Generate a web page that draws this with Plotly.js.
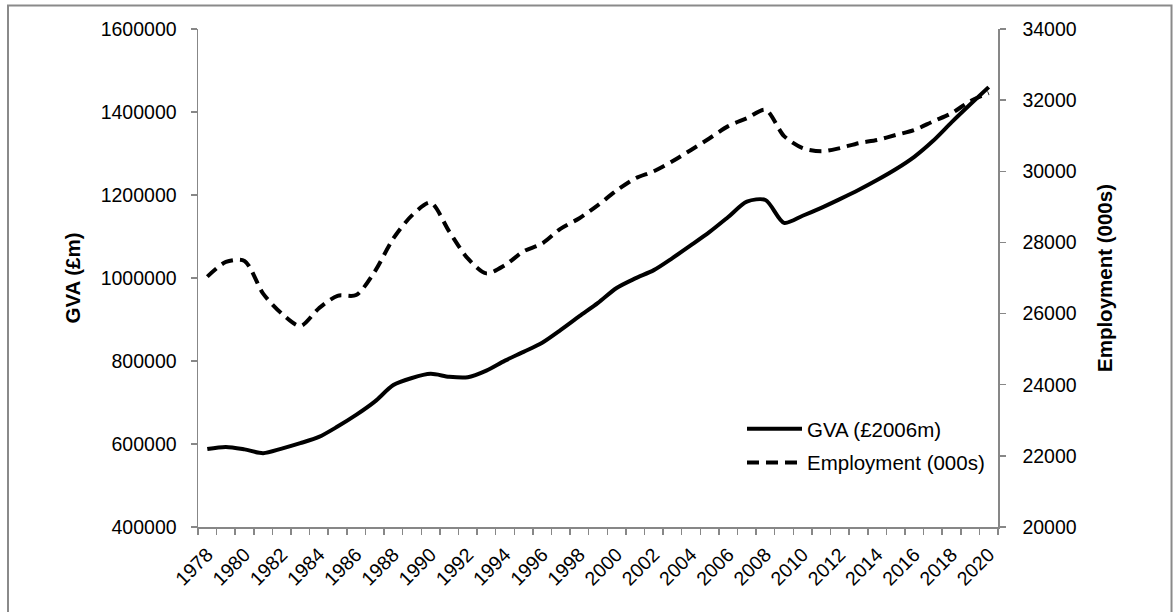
<!DOCTYPE html>
<html>
<head>
<meta charset="utf-8">
<script src="https://cdn.plot.ly/plotly-3.0.1.min.js"></script>
<style>html,body{margin:0;padding:0;background:#fff;}#chart{width:1174px;height:612px;}</style>
</head>
<body>
<div id="chart"></div>
<script>
const years = [1978,1979,1980,1981,1982,1983,1984,1985,1986,1987,1988,1989,1990,1991,1992,1993,1994,1995,1996,1997,1998,1999,2000,2001,2002,2003,2004,2005,2006,2007,2008,2009,2010,2011,2012,2013,2014,2015,2016,2017,2018,2019,2020];
const gva = [588000,593000,587000,578000,589000,602000,617000,642000,670000,702000,742000,759000,769000,762000,761000,777000,801000,822000,844000,875000,908000,940000,976000,999000,1019000,1048000,1079000,1111000,1147000,1184000,1188000,1133000,1150000,1169000,1190000,1212000,1236000,1262000,1292000,1330000,1375000,1418000,1460000];
const employment = [27040,27450,27480,26560,26000,25650,26150,26500,26520,27180,28110,28760,29120,28310,27550,27130,27360,27750,27970,28390,28680,29050,29460,29800,30000,30280,30600,30930,31270,31490,31730,30990,30650,30560,30650,30790,30880,31020,31160,31400,31630,31970,32200];
const tickYears = years.filter(y => y % 2 === 0);
const tickText = tickYears.map(String);
const boundaries = years.map(y => y - 0.5).concat([years[years.length-1] + 0.5]);

const FONT = 'Liberation Sans, Arial, sans-serif';
const AXC = '#878787';

const traces = [
  {x: years, y: gva, name: 'GVA (£2006m)', type: 'scatter', mode: 'lines', legendgroup: 'g1',
   line: {color: '#000', width: 4, shape: 'spline', smoothing: 0.8}, yaxis: 'y'},
  {x: years, y: employment, name: 'Employment (000s)', type: 'scatter', mode: 'lines', legendgroup: 'g2',
   line: {color: '#000', width: 4, shape: 'spline', smoothing: 0.8, dash: '12px,7px'}, yaxis: 'y2'}
];

const layout = {
  width: 1174, height: 612,
  margin: {l: 198, r: 176, t: 29, b: 85},
  paper_bgcolor: '#fff', plot_bgcolor: '#fff',
  font: {family: FONT, color: '#000', size: 19.5},
  showlegend: true,
  legend: {x: 0.68, y: 0.237, xanchor: 'left', yanchor: 'top', bgcolor: 'rgba(0,0,0,0)',
           itemwidth: 55, traceorder: 'grouped', tracegroupgap: 4,
           font: {family: FONT, size: 20.5, color: '#000'}},
  xaxis: {
    range: [1977.5, 2020.5], tickmode: 'array', tickvals: tickYears, ticktext: tickText,
    tickangle: -45, ticks: '', showgrid: false, zeroline: false,
    showline: true, linecolor: AXC, linewidth: 1.5,
    tickfont: {family: FONT, size: 19.5, color: '#000'},
    ticklabelstandoff: 7,
    minor: {tickmode: 'array', tickvals: boundaries, ticks: 'outside', ticklen: 6, tickcolor: AXC, tickwidth: 1.5, showgrid: false}
  },
  yaxis: {
    range: [400000, 1600000], dtick: 200000, tick0: 400000, tickformat: 'd',
    ticks: 'outside', ticklen: 6, tickcolor: AXC, tickwidth: 1.5,
    showline: true, linecolor: AXC, linewidth: 1.5, showgrid: false, zeroline: false,
    tickfont: {family: FONT, size: 19.5, color: '#000'}, ticklabelstandoff: 10,
    title: {text: '<b>GVA (£m)</b>', font: {family: FONT, size: 20.5, color: '#000'}, standoff: 14}
  },
  yaxis2: {
    range: [20000, 34000], dtick: 2000, tick0: 20000, tickformat: 'd',
    overlaying: 'y', side: 'right',
    ticks: 'outside', ticklen: 6, tickcolor: AXC, tickwidth: 1.5,
    showline: true, linecolor: AXC, linewidth: 1.5, showgrid: false, zeroline: false,
    tickfont: {family: FONT, size: 19.5, color: '#000'}, ticklabelstandoff: 13,
    title: {text: '<b>Employment (000s)</b>', font: {family: FONT, size: 20.5, color: '#000'}, standoff: 22}
  },
  shapes: [
    {type: 'rect', xref: 'paper', yref: 'paper', x0: -0.2375, x1: 1.2169, y0: -0.175, y1: 1.0472,
     line: {color: '#8a8a8a', width: 2}, fillcolor: 'rgba(0,0,0,0)', layer: 'below'}
  ]
};

Plotly.newPlot('chart', traces, layout, {displayModeBar: false, staticPlot: true}).then(function (gd) {
  // lengthen legend line samples to match the reference legend keys
  gd.querySelectorAll('.legend .js-line').forEach(function (p) { p.setAttribute('d', 'M5,0h55'); });
});
</script>
</body>
</html>
